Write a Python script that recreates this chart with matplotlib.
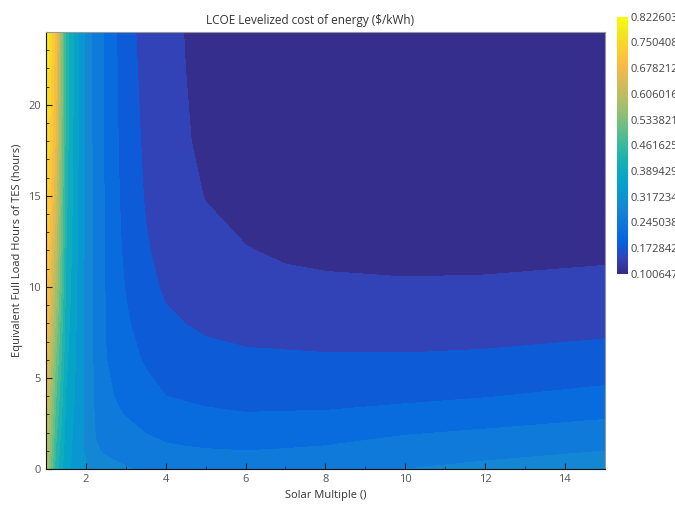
import numpy as np
import matplotlib
matplotlib.use('Agg')
import matplotlib.pyplot as plt
from matplotlib.colors import LinearSegmentedColormap, Normalize
from matplotlib.cm import ScalarMappable
from matplotlib.ticker import MultipleLocator

plt.rcParams['font.family'] = ['Open Sans', 'DejaVu Sans']

# solar multiple (x) and storage hours (y)
solar_multiple = [1, 1.25, 1.5, 1.75, 2, 2.25, 2.5, 3, 3.5, 4, 4.5, 5, 6, 7, 8, 10, 12, 15]
tes_hours = [0, 1, 2, 3, 4, 6, 8, 10, 12, 15, 18, 24]

# LCOE ($/kWh), one row per TES value
lcoe = [
    [0.610, 0.440, 0.365, 0.338, 0.322, 0.300, 0.295, 0.283, 0.277, 0.272, 0.270, 0.268, 0.270, 0.272, 0.275, 0.281, 0.290, 0.295],
    [0.625, 0.455, 0.370, 0.340, 0.312, 0.285, 0.276, 0.270, 0.260, 0.252, 0.249, 0.247, 0.245, 0.247, 0.250, 0.262, 0.270, 0.281],
    [0.640, 0.470, 0.376, 0.342, 0.308, 0.279, 0.262, 0.258, 0.244, 0.236, 0.233, 0.230, 0.228, 0.230, 0.232, 0.242, 0.249, 0.258],
    [0.655, 0.485, 0.382, 0.345, 0.307, 0.276, 0.255, 0.243, 0.233, 0.220, 0.216, 0.213, 0.210, 0.211, 0.212, 0.220, 0.228, 0.240],
    [0.668, 0.500, 0.388, 0.347, 0.306, 0.274, 0.251, 0.236, 0.224, 0.209, 0.206, 0.203, 0.200, 0.199, 0.198, 0.201, 0.207, 0.220],
    [0.690, 0.530, 0.398, 0.351, 0.306, 0.271, 0.246, 0.225, 0.204, 0.193, 0.188, 0.183, 0.178, 0.177, 0.176, 0.176, 0.178, 0.182],
    [0.715, 0.560, 0.408, 0.355, 0.307, 0.269, 0.244, 0.214, 0.192, 0.178, 0.1725, 0.167, 0.163, 0.1615, 0.160, 0.159, 0.160, 0.166],
    [0.740, 0.590, 0.418, 0.358, 0.307, 0.267, 0.243, 0.207, 0.183, 0.168, 0.161, 0.155, 0.146, 0.143, 0.141, 0.140, 0.141, 0.145],
    [0.755, 0.615, 0.426, 0.361, 0.308, 0.266, 0.242, 0.200, 0.176, 0.162, 0.154, 0.147, 0.138, 0.133, 0.131, 0.128, 0.128, 0.131],
    [0.775, 0.645, 0.436, 0.364, 0.309, 0.265, 0.241, 0.194, 0.170, 0.156, 0.146, 0.1355, 0.126, 0.120, 0.117, 0.114, 0.115, 0.118],
    [0.795, 0.670, 0.443, 0.367, 0.309, 0.264, 0.240, 0.190, 0.167, 0.152, 0.139, 0.131, 0.117, 0.112, 0.109, 0.106, 0.108, 0.111],
    [0.822603, 0.700, 0.450, 0.370, 0.310, 0.262, 0.240, 0.183, 0.163, 0.148, 0.1355, 0.125, 0.110, 0.106, 0.104, 0.102, 0.100647, 0.106],
]

cbar_labels = ['0.100647', '0.172842', '0.245038', '0.317234', '0.389429', '0.461625',
               '0.533821', '0.606016', '0.678212', '0.750408', '0.822603']

# parula-like colormap
parula_pts = [
    (0.2081, 0.1663, 0.5292), (0.1959, 0.2645, 0.7279), (0.0117, 0.3875, 0.8820),
    (0.0498, 0.4586, 0.8641), (0.0793, 0.5200, 0.8312), (0.0343, 0.5966, 0.8199),
    (0.0228, 0.6535, 0.7768), (0.0843, 0.6928, 0.7062), (0.2178, 0.7250, 0.6193),
    (0.3953, 0.7459, 0.5244), (0.5709, 0.7485, 0.4494), (0.7184, 0.7411, 0.3905),
    (0.8507, 0.7299, 0.3360), (0.9739, 0.7314, 0.2666), (0.9880, 0.8066, 0.1794),
    (0.9589, 0.8949, 0.1132), (0.9763, 0.9831, 0.0538),
]
parula = LinearSegmentedColormap.from_list('parula', parula_pts)

Z = np.array(lcoe)
X, Y = np.meshgrid(solar_multiple, tes_hours)
zmin, zmax = Z.min(), Z.max()
nband = 20
levels = np.linspace(zmin, zmax, nband + 1)
norm = Normalize(zmin, zmax)
band_colors = [parula((k + 0.2) / nband) for k in range(nband)]

fig = plt.figure(figsize=(6.75, 5.07), dpi=100)
ax = fig.add_axes([0.068, 0.075, 0.828, 0.862])
ax.contourf(X, Y, Z, levels=levels, colors=band_colors)
ax.set_xlim(1, 15)
ax.set_ylim(0, 24)

ax.set_title('LCOE Levelized cost of energy ($/kWh)', fontsize=8.5, color='#333333', x=0.472)
ax.set_xlabel('Solar Multiple ()', fontsize=8, color='#333333')
ax.set_ylabel('Equivalent Full Load Hours of TES (hours)', fontsize=8, color='#333333')

ax.xaxis.set_major_locator(MultipleLocator(2))
ax.xaxis.set_minor_locator(MultipleLocator(1))
ax.yaxis.set_major_locator(MultipleLocator(5))
ax.yaxis.set_minor_locator(MultipleLocator(1))
ax.tick_params(which='both', direction='in', colors='#222222', labelcolor='#555555', labelsize=8)
ax.tick_params(which='major', length=4)
ax.tick_params(which='minor', length=2)
for s in ['top', 'right']:
    ax.spines[s].set_color('#999999')
for s in ['bottom', 'left']:
    ax.spines[s].set_color('#111111')

cax = fig.add_axes([0.914, 0.46, 0.016, 0.507])
sm = ScalarMappable(norm=norm, cmap=parula)
cb = fig.colorbar(sm, cax=cax)
cb.outline.set_visible(False)
cb.set_ticks(np.linspace(zmin, zmax, len(cbar_labels)))
cb.set_ticklabels(cbar_labels)
cax.tick_params(length=0, labelsize=8, labelcolor='#444444', pad=2)

fig.savefig('out.png', dpi=100)
